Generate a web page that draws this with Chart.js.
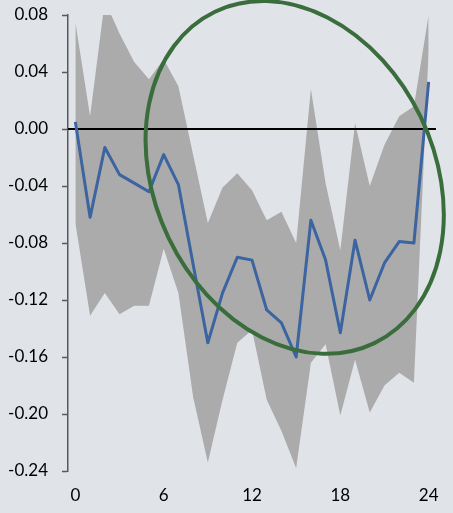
<!DOCTYPE html>
<html>
<head>
<meta charset="utf-8">
<script src="https://cdn.jsdelivr.net/npm/chart.js@4.4.1/dist/chart.umd.min.js"></script>
<style>
  html, body { margin: 0; padding: 0; background: #e0e3e8; overflow: hidden; }
  #wrap { position: relative; width: 453px; height: 513px; }
</style>
</head>
<body>
<div id="wrap"><canvas id="c" width="453" height="513"></canvas></div>
<script>
// Horizon (periods after the shock)
const horizons = [0, 1, 2, 3, 4, 5, 6, 7, 8, 9, 10, 11, 12, 13, 14, 15, 16, 17, 18, 19, 20, 21, 22, 23, 24];

// Point estimate of the response
const response = [0.005, -0.062, -0.013, -0.032, -0.038, -0.044, -0.018, -0.039, -0.095, -0.150,
                  -0.115, -0.090, -0.092, -0.127, -0.136, -0.160, -0.064, -0.092, -0.143, -0.078,
                  -0.120, -0.094, -0.079, -0.080, 0.033];

// Confidence band
const upperBand = [0.075, 0.009, 0.090, 0.067, 0.047, 0.035, 0.049, 0.030, -0.018, -0.066,
                   -0.041, -0.031, -0.043, -0.064, -0.058, -0.080, 0.028, -0.038, -0.085, 0.004,
                   -0.040, -0.011, 0.009, 0.016, 0.080];
const lowerBand = [-0.066, -0.131, -0.115, -0.130, -0.124, -0.124, -0.084, -0.115, -0.188, -0.234,
                   -0.190, -0.150, -0.141, -0.190, -0.212, -0.238, -0.164, -0.151, -0.201, -0.162,
                   -0.199, -0.180, -0.171, -0.178, 0.055];

// Value axis ticks
const yTicks = [-0.24, -0.20, -0.16, -0.12, -0.08, -0.04, 0.00, 0.04, 0.08];
const xLabelStep = 6;

// Highlighted region (centre and half-spans in axis units, tilt in degrees)
const highlight = { x: 14.9, y: -0.034, spanX: 9.5, spanY: 0.129, tilt: -25.7 };

const FONT = { family: 'Lato, "Open Sans", sans-serif', size: 17 };

// Zero reference line, drawn just beneath the response line
const zeroLine = {
  id: 'zeroLine',
  beforeDatasetDraw(chart, args) {
    if (args.index !== 0) return;
    const { ctx, chartArea } = chart;
    const y = chart.scales.y.getPixelForValue(0);
    ctx.save();
    ctx.strokeStyle = '#000000';
    ctx.lineWidth = 2;
    ctx.beginPath();
    ctx.moveTo(chartArea.left, y);
    ctx.lineTo(chartArea.right, y);
    ctx.stroke();
    ctx.restore();
  }
};

// Ellipse outlining the region of interest
const highlightEllipse = {
  id: 'highlightEllipse',
  afterDatasetsDraw(chart) {
    const { ctx } = chart;
    const xs = chart.scales.x, ys = chart.scales.y;
    const cx = xs.getPixelForValue(highlight.x);
    const cy = ys.getPixelForValue(highlight.y);
    const rx = Math.abs(xs.getPixelForValue(highlight.x + highlight.spanX) - cx);
    const ry = Math.abs(ys.getPixelForValue(highlight.y + highlight.spanY) - cy);
    ctx.save();
    ctx.strokeStyle = '#3a6d3c';
    ctx.lineWidth = 4;
    ctx.beginPath();
    ctx.ellipse(cx, cy, rx, ry, highlight.tilt * Math.PI / 180, 0, Math.PI * 2);
    ctx.stroke();
    ctx.restore();
  }
};

new Chart(document.getElementById('c'), {
  type: 'line',
  data: {
    labels: horizons.map(String),
    datasets: [
      {
        label: 'Response',
        data: response,
        borderColor: '#3b64a0',
        borderWidth: 3,
        borderJoinStyle: 'round',
        pointRadius: 0,
        tension: 0,
        fill: false
      },
      {
        label: 'Upper',
        data: upperBand,
        borderWidth: 0,
        borderColor: 'rgba(0,0,0,0)',
        backgroundColor: '#ababab',
        pointRadius: 0,
        tension: 0,
        fill: '+1'
      },
      {
        label: 'Lower',
        data: lowerBand,
        borderWidth: 0,
        borderColor: 'rgba(0,0,0,0)',
        pointRadius: 0,
        tension: 0,
        fill: false
      }
    ]
  },
  options: {
    responsive: false,
    animation: false,
    devicePixelRatio: 1,
    layout: { padding: { top: 15, right: 17, left: 0, bottom: 0 } },
    plugins: { legend: { display: false }, tooltip: { enabled: false } },
    scales: {
      x: {
        type: 'category',
        offset: true,
        grid: { display: false, drawTicks: false },
        border: { display: false },
        ticks: {
          autoSkip: false,
          maxRotation: 0,
          padding: 14,
          color: '#000000',
          font: FONT,
          callback: (v, i) => (i % xLabelStep === 0 ? horizons[i] : '')
        },
        afterFit: (s) => { s.height = 42; s.paddingLeft = 0; s.paddingRight = 0; }
      },
      y: {
        min: yTicks[0],
        max: yTicks[yTicks.length - 1],
        afterBuildTicks: (s) => { s.ticks = yTicks.map(v => ({ value: v })); },
        grid: {
          drawOnChartArea: false,
          drawTicks: true,
          tickLength: 6,
          tickColor: '#595959',
          tickWidth: 1.5
        },
        border: { display: true, color: '#595959', width: 1.5 },
        ticks: {
          padding: 14,
          color: '#000000',
          font: FONT,
          callback: (v) => { const s = Number(v).toFixed(2); return s === '-0.00' ? '0.00' : s; }
        },
        afterFit: (s) => { s.width = 68; s.paddingTop = 0; s.paddingBottom = 0; }
      }
    }
  },
  plugins: [zeroLine, highlightEllipse]
});
</script>
</body>
</html>
